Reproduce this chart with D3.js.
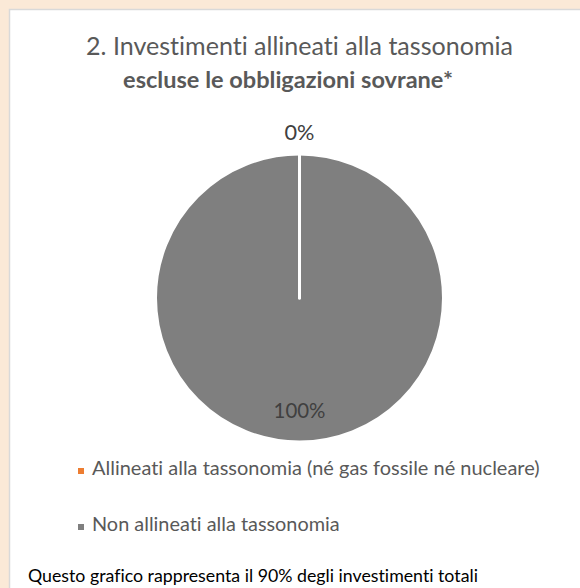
<!DOCTYPE html>
<html>
<head>
<meta charset="utf-8">
<script src="https://cdn.jsdelivr.net/npm/d3@7"></script>
<style>
  body { margin: 0; background: #fbe9d7; }
  svg text { font-family: Lato, "Open Sans", sans-serif; font-variant-ligatures: none; }
</style>
</head>
<body>
<div id="chart"></div>
<script>
var categories = ["Allineati alla tassonomia (né gas fossile né nucleare)", "Non allineati alla tassonomia"];
var values = [0, 100];
var sliceLabels = ["0%", "100%"];
var colors = ["#ed7d31", "#7f7f7f"];
var titleLine1 = "2. Investimenti allineati alla tassonomia";
var titleLine2 = "escluse le obbligazioni sovrane*";
var footnote = "Questo grafico rappresenta il 90% degli investimenti totali";

var width = 580, height = 588;

var svg = d3.select("#chart")
  .append("svg")
    .attr("width", width)
    .attr("height", height);

// white panel with light border
svg.append("rect")
  .attr("x", 9.5).attr("y", 9.5)
  .attr("width", width).attr("height", height)
  .attr("fill", "#ffffff")
  .attr("stroke", "#d9d9d9")
  .attr("stroke-width", 1.5);

// shrink/grow a text so it spans the wanted width
var fit = function(sel, target) {
  var w = sel.node().getComputedTextLength();
  var fs = parseFloat(sel.attr("font-size"));
  sel.attr("font-size", fs * target / w);
  return sel;
}

fit(svg.append("text")
  .attr("x", 299.5).attr("y", 55)
  .attr("text-anchor", "middle")
  .attr("font-size", 24)
  .attr("fill", "#595959")
  .text(titleLine1), 427);

fit(svg.append("text")
  .attr("x", 288).attr("y", 88)
  .attr("text-anchor", "middle")
  .attr("font-size", 24)
  .attr("font-weight", "bold")
  .attr("fill", "#595959")
  .text(titleLine2), 330);

// pie
var cx = 299.5, cy = 298, r = 144;
var pie = d3.pie().sort(null).value(function(d) { return d; });
var arc = d3.arc().innerRadius(0).outerRadius(r);
var arcs = pie(values);

var g = svg.append("g").attr("transform", "translate(" + cx + "," + cy + ")");
g.selectAll("path")
  .data(arcs)
  .enter().append("path")
    .attr("d", arc)
    .attr("fill", function(d, i) { return colors[i]; })
    .attr("stroke", "#ffffff")
    .attr("stroke-width", 3)
    .attr("stroke-linejoin", "round");

// slice borders (the empty slice only shows as a white edge)
g.selectAll("line.edge")
  .data(arcs)
  .enter().append("line")
    .attr("class", "edge")
    .attr("x1", 0).attr("y1", 0)
    .attr("x2", function(d) { return d3.pointRadial(d.startAngle, r)[0]; })
    .attr("y2", function(d) { return d3.pointRadial(d.startAngle, r)[1]; })
    .attr("stroke", "#ffffff")
    .attr("stroke-width", 3)
    .attr("stroke-linecap", "round");

// labels: the 0% one sits outside the top, the 100% inside the bottom
var labelWidth = [30, 52];
arcs.forEach(function(d, i) {
  var mid = (d.startAngle + d.endAngle) / 2;
  var p = i == 0 ? d3.pointRadial(mid, r + 20) : [0, r * 0.78];
  var t = g.append("text")
    .attr("x", p[0]).attr("y", p[1] + (i == 0 ? 6 : 8))
    .attr("text-anchor", "middle")
    .attr("font-size", 20)
    .attr("fill", "#404040")
    .text(sliceLabels[i]);
  fit(t, labelWidth[i]);
});

// legend
var legendY = [475, 531];
var legendW = [448, 248];
categories.forEach(function(c, i) {
  svg.append("rect")
    .attr("x", 78).attr("y", legendY[i] - 7)
    .attr("width", 6).attr("height", 6)
    .attr("fill", colors[i]);
  var t = svg.append("text")
    .attr("x", 92).attr("y", legendY[i])
    .attr("font-size", 18)
    .attr("fill", "#595959")
    .text(c);
  fit(t, legendW[i]);
});

fit(svg.append("text")
  .attr("x", 28).attr("y", 582)
  .attr("font-size", 18)
  .attr("fill", "#000000")
  .text(footnote), 450);
</script>
</body>
</html>
